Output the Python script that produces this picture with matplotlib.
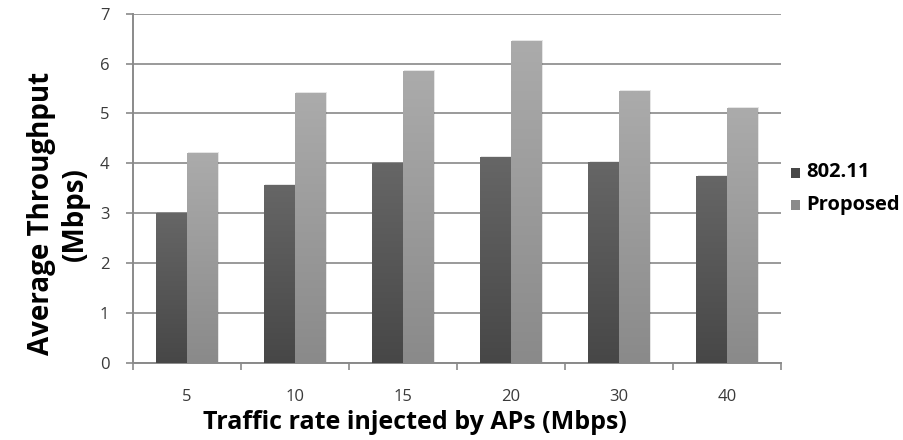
import numpy as np
import matplotlib
matplotlib.use('Agg')
import matplotlib.pyplot as plt
from matplotlib.patches import Rectangle

rates = ['5', '10', '15', '20', '30', '40']
thr_80211 = [3.0, 3.57, 4.0, 4.12, 4.03, 3.75]
thr_proposed = [4.20, 5.40, 5.86, 6.46, 5.44, 5.10]
series = ['802.11', 'Proposed']

plt.rcParams['font.family'] = ['Open Sans', 'DejaVu Sans']

# (top colour, bottom colour) for the shaded bars
shades = [('#666666', '#474747'), ('#ababab', '#8a8a8a')]


def gradient_bar(ax, x, h, w, top, bottom):
    c0 = np.array(matplotlib.colors.to_rgb(bottom))
    c1 = np.array(matplotlib.colors.to_rgb(top))
    t = np.linspace(0, 1, 64)[:, None]
    img = (c0 + (c1 - c0) * t)[:, None, :]
    # faint drop shadow
    ax.add_patch(Rectangle((x + 0.012, 0), w, h + 0.02, facecolor='#000000',
                           alpha=0.10, edgecolor='none', zorder=2))
    rect = Rectangle((x, 0), w, h, facecolor='none', edgecolor='none', zorder=3)
    ax.add_patch(rect)
    im = ax.imshow(img, extent=(x, x + w, 0, h), origin='lower', aspect='auto',
                   zorder=3, interpolation='bilinear')
    im.set_clip_path(rect)


fg = plt.figure(figsize=(9.04, 4.4), dpi=100)
ax = fg.add_axes([0.147, 0.175, 0.717, 0.794])

n = len(rates)
w = 0.285
for i in range(n):
    c = i + 0.5
    gradient_bar(ax, c - w, thr_80211[i], w, *shades[0])
    gradient_bar(ax, c, thr_proposed[i], w, *shades[1])

ax.set_xlim(0, n)
ax.set_ylim(0, 7)
ax.set_yticks(range(8))
ax.yaxis.grid(True, color='#9a9a9a', linewidth=1.4, zorder=1)
ax.set_axisbelow(True)

# category boundaries carry the ticks, labels sit in the middle
ax.set_xticks(range(n + 1))
ax.set_xticklabels([])
ax.set_xticks(np.arange(n) + 0.5, minor=True)
ax.set_xticklabels(rates, minor=True)
ax.tick_params(axis='x', which='major', length=5, color='#8a8a8a', width=1.2, direction='out')
ax.tick_params(axis='x', which='minor', length=0, pad=19, labelsize=12, labelcolor='#3a3a3a')
ax.tick_params(axis='y', length=5, color='#8a8a8a', width=1.2, direction='out',
               labelsize=12, labelcolor='#3a3a3a', pad=12)

for s in ['top', 'right']:
    ax.spines[s].set_visible(False)
for s in ['left', 'bottom']:
    ax.spines[s].set_color('#8a8a8a')
    ax.spines[s].set_linewidth(1.4)

ax.set_xlabel('Traffic rate injected by APs (Mbps)', fontsize=18, fontweight='bold')
ax.xaxis.set_label_coords(0.435, -0.135)
ax.set_ylabel('Average Throughput\n(Mbps)', fontsize=20, fontweight='bold',
              linespacing=1.25, multialignment='center')
ax.yaxis.set_label_coords(-0.066, 0.427)

# legend drawn by hand
for k, (name, y) in enumerate(zip(series, [0.608, 0.535])):
    fg.patches.append(Rectangle((0.8745, y - 0.012), 0.0105, 0.023,
                                transform=fg.transFigure, facecolor=shades[k][1],
                                edgecolor='none'))
    fg.text(0.892, y, name, fontsize=14.5, fontweight='bold', va='center', ha='left')

fg.savefig('out.png', dpi=100)
